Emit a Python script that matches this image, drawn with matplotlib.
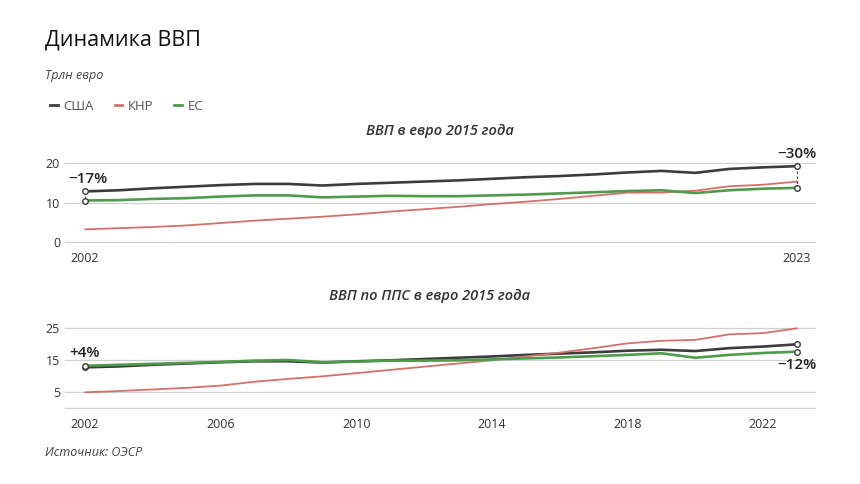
import matplotlib.pyplot as plt
from matplotlib.lines import Line2D

plt.rcParams['font.family'] = ['Open Sans', 'DejaVu Sans']

years = list(range(2002, 2024))

# ВВП в евро 2015 года, трлн
usa_eur = [12.8, 13.1, 13.6, 14.0, 14.4, 14.7, 14.7, 14.3, 14.7, 15.0, 15.3,
           15.6, 16.0, 16.4, 16.7, 17.1, 17.6, 18.0, 17.5, 18.5, 18.9, 19.2]
chn_eur = [3.2, 3.5, 3.8, 4.2, 4.8, 5.4, 5.9, 6.4, 7.0, 7.7, 8.3,
           8.9, 9.6, 10.2, 10.9, 11.7, 12.5, 12.5, 13.0, 14.1, 14.5, 15.3]
eu_eur = [10.5, 10.6, 10.9, 11.1, 11.5, 11.8, 11.8, 11.3, 11.5, 11.7, 11.6,
          11.6, 11.8, 12.0, 12.3, 12.6, 12.9, 13.1, 12.4, 13.1, 13.5, 13.7]

# ВВП по ППС в евро 2015 года, трлн
usa_ppp = [12.7, 13.0, 13.5, 13.9, 14.3, 14.6, 14.6, 14.2, 14.6, 14.9, 15.3,
           15.7, 16.1, 16.6, 17.0, 17.4, 17.9, 18.2, 17.8, 18.7, 19.2, 19.9]
chn_ppp = [4.9, 5.3, 5.8, 6.3, 7.0, 8.2, 9.1, 9.9, 10.9, 11.9, 12.9,
           13.9, 14.9, 16.1, 17.3, 18.7, 20.2, 21.0, 21.3, 23.0, 23.4, 24.9]
eu_ppp = [13.2, 13.5, 13.8, 14.1, 14.4, 14.8, 15.0, 14.3, 14.5, 14.8, 14.8,
          14.9, 15.2, 15.5, 15.8, 16.2, 16.6, 17.1, 15.7, 16.6, 17.2, 17.6]

names = ['США', 'КНР', 'ЕС']
colors = ['#3c3c3c', '#d4716a', '#4f9b4c']
widths = [1.9, 1.3, 1.9]

W, H = 860, 484
fig = plt.figure(figsize=(W / 100, H / 100), dpi=100)


def fy(px):
    return 1 - px / H


def make_axes(bottom_px, top_px):
    ax = fig.add_axes([65 / W, fy(bottom_px), 750 / W, (bottom_px - top_px) / H])
    ax.set_xlim(2002 - 20 / 34, 2023 + 18 / 34)
    for s in ax.spines.values():
        s.set_visible(False)
    ax.tick_params(length=0, labelsize=9, labelcolor='#333333')
    ax.grid(axis='y', color='#d0d0d0', lw=0.9)
    ax.set_axisbelow(True)
    return ax


def draw(ax, series):
    for line in ax.get_ygridlines():
        line.set_clip_on(False)
    for vals, c, lw in zip(series, colors, widths):
        ax.plot(years, vals, color=c, lw=lw, solid_capstyle='round',
                solid_joinstyle='round', clip_on=False, zorder=3)


def gap(ax, x, a, b):
    ax.plot([x, x], [a, b], color='#3c3c3c', lw=0.9, ls=(0, (2, 2)),
            clip_on=False, zorder=4)
    ax.plot([x, x], [a, b], ls='none', marker='o', ms=4, mfc='white',
            mec='#3c3c3c', mew=1.0, clip_on=False, zorder=5)


# верхний график
ax1 = make_axes(242, 163)
ax1.set_ylim(0, 20)
ax1.set_yticks([0, 10, 20])
ax1.set_xticks([2002, 2023])
ax1.tick_params(axis='x', pad=7)
draw(ax1, [usa_eur, chn_eur, eu_eur])
gap(ax1, years[0], usa_eur[0], eu_eur[0])
gap(ax1, years[-1], usa_eur[-1], eu_eur[-1])
ax1.text(years[0] + 0.1, usa_eur[0] + 1.5, '−17%', ha='center', va='bottom',
         fontsize=11, fontweight='semibold', color='#222222')
ax1.text(years[-1], usa_eur[-1] + 1.2, '−30%', ha='center', va='bottom',
         fontsize=11, fontweight='semibold', color='#222222')
fig.text(440 / W, fy(131), 'ВВП в евро 2015 года', ha='center', va='center',
         fontsize=10.5, style='italic', fontweight='semibold', color='#333333')

# нижний график
ax2 = make_axes(408, 328)
ax2.set_ylim(0, 25)
ax2.set_yticks([0, 5, 15, 25])
ax2.set_yticklabels(['', '5', '15', '25'])
ax2.set_xticks(list(range(2002, 2024, 4)))
ax2.tick_params(axis='x', pad=7)
draw(ax2, [usa_ppp, chn_ppp, eu_ppp])
gap(ax2, years[0], usa_ppp[0], eu_ppp[0])
gap(ax2, years[-1], usa_ppp[-1], eu_ppp[-1])
ax2.text(years[0], eu_ppp[0] + 1.7, '+4%', ha='center', va='bottom',
         fontsize=11, fontweight='semibold', color='#222222')
ax2.text(years[-1], eu_ppp[-1] - 2.0, '−12%', ha='center', va='top',
         fontsize=11, fontweight='semibold', color='#222222')
fig.text(430 / W, fy(296), 'ВВП по ППС в евро 2015 года', ha='center',
         va='center', fontsize=10.5, style='italic', fontweight='semibold',
         color='#333333')

# заголовки и легенда
fig.text(45 / W, fy(40), 'Динамика ВВП', ha='left', va='center',
         fontsize=15.5, color='#111111')
fig.text(45 / W, fy(75), 'Трлн евро', ha='left', va='center',
         fontsize=9, style='italic', color='#444444')
handles = [Line2D([], [], color=c, lw=2) for c in colors]
fig.legend(handles, names, loc='center left', bbox_to_anchor=(38 / W, fy(106)),
           ncol=3, frameon=False, fontsize=9.5, handlelength=0.6,
           handletextpad=0.4, columnspacing=1.6, labelcolor='#555555')
fig.text(45 / W, fy(452), 'Источник: ОЭСР', ha='left', va='center',
         fontsize=9, style='italic', color='#444444')

fig.savefig('out.png', dpi=100, facecolor='white')
